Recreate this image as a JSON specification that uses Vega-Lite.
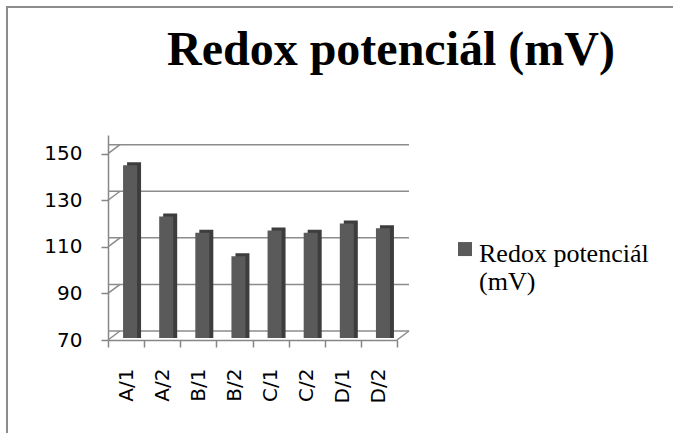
{
  "$schema": "https://vega.github.io/schema/vega-lite/v6.json",
  "width": 289,
  "height": 205,
  "autosize": {"type": "none"},
  "padding": {"left": 108, "top": 135, "right": 276, "bottom": 93},
  "background": "white",
  "title": {
    "text": "Redox potenciál (mV)",
    "font": "Liberation Serif",
    "fontSize": 48,
    "fontWeight": "bold",
    "color": "black",
    "anchor": "start",
    "frame": "group",
    "dx": 59,
    "offset": 0,
    "dy": 107,
    "baseline": "alphabetic"
  },
  "config": {
    "view": {"stroke": null},
    "legend": {"strokeWidth": 2},
    "axis": {
      "domainColor": "#868686",
      "domainWidth": 1.5,
      "tickColor": "#868686",
      "tickWidth": 1.5,
      "tickSize": 7,
      "labelFont": "DejaVu Sans",
      "labelFontSize": 20,
      "labelColor": "#000000",
      "grid": false,
      "title": null
    }
  },
  "datasets": {
    "bars": [
      {"cat": "A/1", "val": 145},
      {"cat": "A/2", "val": 123},
      {"cat": "B/1", "val": 116},
      {"cat": "B/2", "val": 106},
      {"cat": "C/1", "val": 117},
      {"cat": "C/2", "val": 116},
      {"cat": "D/1", "val": 120},
      {"cat": "D/2", "val": 118}
    ],
    "grid": [{"v": 70}, {"v": 90}, {"v": 110}, {"v": 130}, {"v": 150}]
  },
  "layer": [
    {
      "data": {"name": "grid"},
      "mark": {"type": "rule", "color": "#8c8c8c", "strokeWidth": 1.5, "xOffset": 12, "yOffset": -9},
      "encoding": {
        "y": {"field": "v", "type": "quantitative", "scale": {"domain": [70, 158], "nice": false, "zero": false},
          "axis": {"values": [70, 90, 110, 130, 150], "labelPadding": 19}},
        "opacity": {"datum": "frame", "type": "nominal", "scale": {"range": [1]},
          "legend": {"orient": "none", "legendX": -101, "legendY": -128, "padding": 400, "strokeColor": "#8c8c8c", "title": null, "symbolOpacity": 0, "symbolSize": 0, "symbolStrokeWidth": 0, "labelOpacity": 0, "labelFontSize": 1}}
      }
    },
    {
      "data": {"name": "grid"},
      "mark": {"type": "point", "shape": "M-1,0.75L1,-0.75", "size": 144, "filled": false, "color": "#8c8c8c", "strokeWidth": 1.5, "opacity": 1, "xOffset": 6, "yOffset": -4.5},
      "encoding": {
        "x": {"datum": "A/1", "type": "nominal", "bandPosition": 0},
        "y": {"field": "v", "type": "quantitative"}
      }
    },
    {
      "data": {"values": [{"v": 70}]},
      "mark": {"type": "point", "shape": "M-1,0.75L1,-0.75", "size": 144, "filled": false, "color": "#8c8c8c", "strokeWidth": 1.5, "opacity": 1, "xOffset": 6, "yOffset": -4.5},
      "encoding": {
        "x": {"datum": "D/2", "type": "nominal", "bandPosition": 1},
        "y": {"field": "v", "type": "quantitative"}
      }
    },
    {
      "data": {"name": "bars"},
      "mark": {"type": "bar", "color": "#3d3d3d", "width": 14, "xOffset": 8, "yOffset": -3, "y2Offset": -2},
      "encoding": {
        "x": {"field": "cat", "type": "nominal", "sort": null,
          "scale": {"domain": ["A/1", "A/2", "B/1", "B/2", "C/1", "C/2", "D/1", "D/2"], "paddingInner": 0, "paddingOuter": 0},
          "axis": {"labelAngle": -90, "tickBand": "extent", "labelPadding": 21}},
        "y": {"field": "val", "type": "quantitative"},
        "y2": {"datum": 70}
      }
    },
    {
      "data": {"name": "bars"},
      "mark": {"type": "bar", "width": 14, "xOffset": 4, "y2Offset": -2},
      "encoding": {
        "x": {"field": "cat", "type": "nominal", "sort": null},
        "y": {"field": "val", "type": "quantitative"},
        "y2": {"datum": 70},
        "color": {"datum": "Redox potenciál (mV)", "type": "nominal", "scale": {"range": ["#5a5a5a"]},
          "legend": {"orient": "none", "legendX": 344, "legendY": 93, "padding": 0, "title": null,
            "symbolType": "M-1,0.15H1V2.15H-1Z", "symbolSize": 196, "symbolStrokeWidth": 0,
            "labelFont": "Liberation Serif", "labelFontSize": 26, "labelColor": "#000000",
            "labelOffset": 1, "labelBaseline": "top", "labelLimit": 400,
            "labelExpr": "['Redox potenciál', '(mV)']"}}
      }
    }
  ]
}
